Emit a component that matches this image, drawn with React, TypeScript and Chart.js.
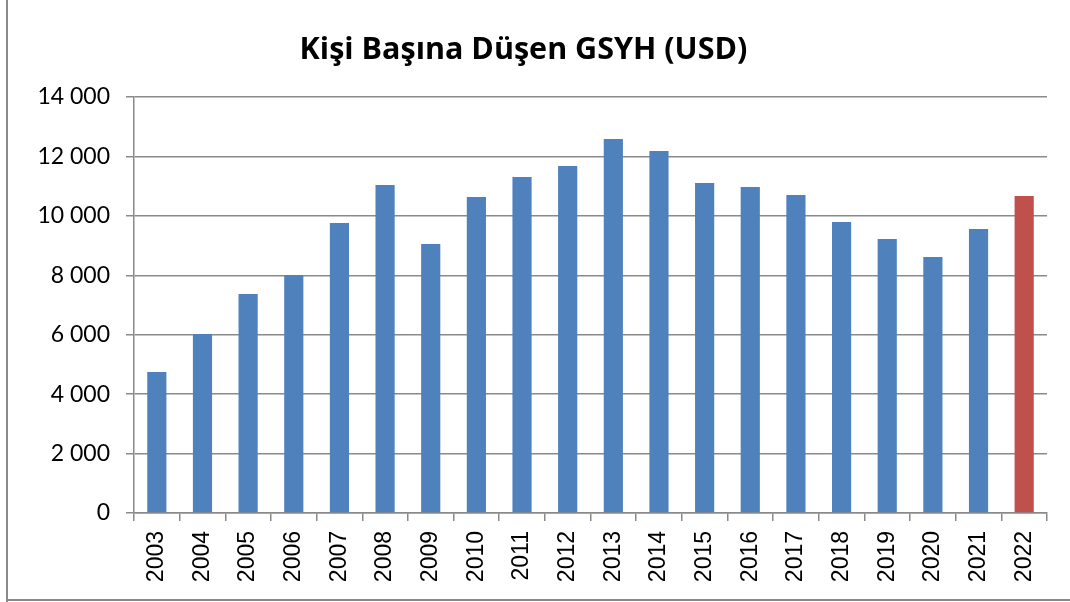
import React, { useEffect, useRef } from "react";
import { Chart, registerables } from "chart.js";

Chart.register(...registerables);

const years = ["2003","2004","2005","2006","2007","2008","2009","2010","2011","2012","2013","2014","2015","2016","2017","2018","2019","2020","2021","2022"];
const gdpPerCapita = [4746, 6025, 7371, 8010, 9761, 11040, 9054, 10636, 11309, 11679, 12588, 12184, 11107, 10972, 10703, 9794, 9222, 8616, 9559, 10670];
const barColors = years.map((y) => (y === "2022" ? "#C0504D" : "#4F81BD"));
const titleText = "Kişi Başına Düşen GSYH (USD)";
const yMax = 14000;
const yStep = 2000;

const fmt = (v: number) => String(v).replace(/\B(?=(\d{3})+(?!\d))/g, " ");

export default function App() {
  const ref = useRef<HTMLCanvasElement | null>(null);
  useEffect(() => {
    if (!ref.current) return;
    const chart = new Chart(ref.current, {
      type: "bar",
      data: {
        labels: years,
        datasets: [
          {
            data: gdpPerCapita,
            backgroundColor: barColors,
            barPercentage: 0.42,
            categoryPercentage: 1,
          },
        ],
      },
      options: {
        responsive: false,
        animation: false,
        layout: { padding: { left: 0, right: 23, top: 0, bottom: 0 } },
        plugins: {
          legend: { display: false },
          tooltip: { enabled: false },
          title: {
            display: true,
            text: titleText,
            color: "#000",
            font: { family: "Open Sans", size: 30.5, weight: "bold", lineHeight: 1.2 },
            padding: { top: 32, bottom: 28.4 },
          },
        },
        scales: {
          x: {
            grid: { display: true, drawOnChartArea: false, offset: true, tickLength: 8, color: "#8a8a8a", lineWidth: 1.5 },
            border: { display: true, color: "#8a8a8a", width: 1.5 },
            ticks: {
              minRotation: 90,
              maxRotation: 90,
              padding: 10,
              color: "#000",
              font: { family: "Liberation Sans", size: 23 },
            },
            afterFit: (s: any) => { s.height = 89; },
          },
          y: {
            min: 0,
            max: yMax,
            grid: { color: "#8a8a8a", lineWidth: 1.5, tickLength: 8 },
            border: { display: true, color: "#8a8a8a", width: 1.5 },
            ticks: {
              stepSize: yStep,
              padding: 16,
              color: "#000",
              font: { family: "Lato", size: 23 },
              callback: (v: any) => fmt(Number(v)),
            },
            afterFit: (s: any) => { s.width = 134; },
          },
        },
      },
    });
    return () => chart.destroy();
  }, []);
  return (
    <div style={{ position: "fixed", left: 0, top: 0, width: 1070, height: 602, background: "#fff" }}>
      <canvas ref={ref} width={1070} height={602} style={{ display: "block" }} />
      <div style={{ position: "absolute", left: 6, top: 0, width: 2, height: 602, background: "#8a8a8a" }} />
      <div style={{ position: "absolute", left: 6, top: 599, width: 1064, height: 2, background: "#8a8a8a" }} />
    </div>
  );
}
